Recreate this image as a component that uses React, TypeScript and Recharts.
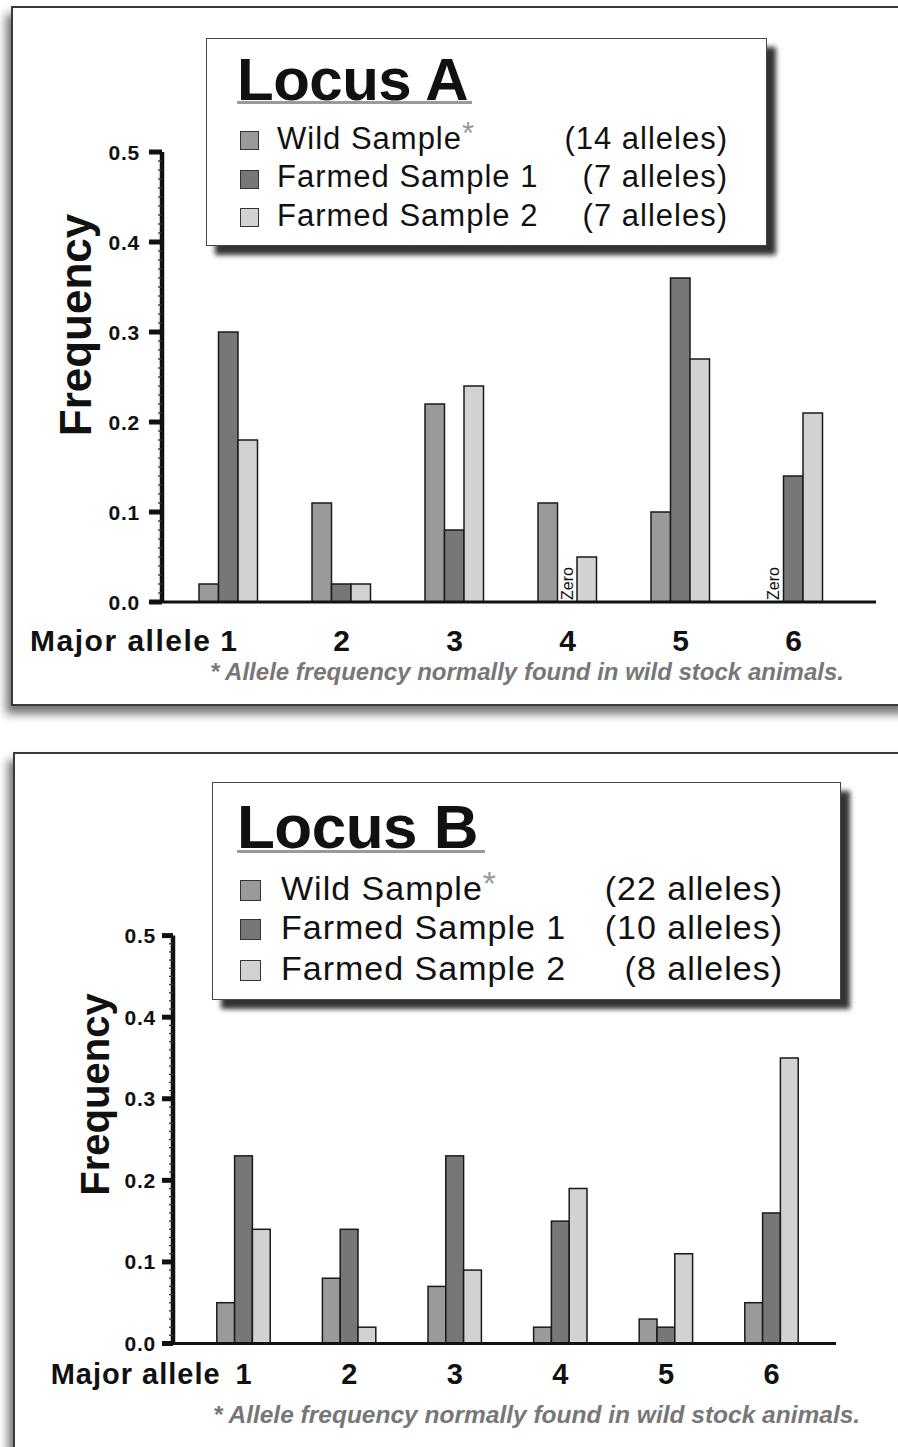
import React from 'react';
import { BarChart, Bar, XAxis, YAxis, Legend } from 'recharts';

// allele categories and frequencies
const alleles = ['1', '2', '3', '4', '5', '6'];

const wildA = [0.02, 0.11, 0.22, 0.11, 0.1, 0];
const farmed1A = [0.3, 0.02, 0.08, 0, 0.36, 0.14];
const farmed2A = [0.18, 0.02, 0.24, 0.05, 0.27, 0.21];

const wildB = [0.05, 0.08, 0.07, 0.02, 0.03, 0.05];
const farmed1B = [0.23, 0.14, 0.23, 0.15, 0.02, 0.16];
const farmed2B = [0.14, 0.02, 0.09, 0.19, 0.11, 0.35];

const seriesNames = ['Wild Sample', 'Farmed Sample 1', 'Farmed Sample 2'];
const countsA = ['(14 alleles)', '(7 alleles)', '(7 alleles)'];
const countsB = ['(22 alleles)', '(10 alleles)', '(8 alleles)'];

// minor ticks every 0.01, labelled majors every 0.1
const minorStep = 0.01;
const allTicks = Array.from({ length: 51 }, (_, i) => Math.round(i * minorStep * 100) / 100);

const FONT = '"Liberation Sans", Arial, Helvetica, sans-serif';
const COLORS = ['#9a9a9a', '#777777', '#d2d2d2'];
const KEYS = ['wild', 'farmed1', 'farmed2'];
const FOOTNOTE = '* Allele frequency normally found in wild stock animals.';

const buildRows = (w: number[], f1: number[], f2: number[]) =>
    alleles.map((a, i) => ({ allele: a, wild: w[i], farmed1: f1[i], farmed2: f2[i] }));

// bar shape: normal rect, or a rotated "Zero" note where the value is 0
const makeShape = (key: string) => (props: any) => {
    const { x, y, width, height, fill, payload } = props;
    if (payload && payload[key] === 0) {
        const cx = Number(x) + Number(width) / 2;
        const by = Number(y) + Number(height) - 2;
        return (
            <text x={cx} y={by} transform={`rotate(-90, ${cx}, ${by})`} textAnchor="start" dominantBaseline="central"
                fontSize={16} fontFamily={FONT} fill="#111">Zero</text>
        );
    }
    if (!height) return null;
    return <rect x={x} y={y} width={width} height={height} fill={fill} stroke="#1a1a1a" strokeWidth={1.5} />;
};

const makeYTick = (cfg: any) => (props: any) => {
    const { x, y, payload } = props;
    const v = Number(payload.value);
    const major = Math.round(v * 100) % 10 === 0;
    return (
        <g>
            {major ? (
                <>
                    <line x1={x - cfg.tickLen} x2={x} y1={y} y2={y} stroke="#111" strokeWidth={5} />
                    <text x={x - cfg.tickLen - cfg.tickGap} y={y} dy="0.36em" textAnchor="end" fontSize={21}
                        fontWeight="bold" fontFamily={FONT} letterSpacing={0.8} fill="#111">{v.toFixed(1)}</text>
                </>
            ) : (
                <line x1={x - 4} x2={x} y1={y} y2={y} stroke="#333" strokeWidth={1.3} />
            )}
        </g>
    );
};

const makeXTick = (cfg: any) => (props: any) => {
    const { x, y, payload, index } = props;
    return (
        <g>
            <text x={x} y={y + cfg.catBaseline} textAnchor="middle" fontSize={cfg.catFont} fontWeight="bold"
                fontFamily={FONT} fill="#111">{payload.value}</text>
            {index === 0 && (
                <text x={x - cfg.majorGap} y={y + cfg.catBaseline} textAnchor="end" fontSize={cfg.catFont}
                    fontWeight="bold" fontFamily={FONT} letterSpacing={cfg.majorSpacing} fill="#111">Major allele</text>
            )}
        </g>
    );
};

const LegendBox = ({ cfg }: { cfg: any }) => {
    const L = cfg.legend;
    return (
        <div style={{
            position: 'relative', width: L.width, height: L.height, boxSizing: 'border-box',
            background: '#fff', border: '1.5px solid #444', boxShadow: '9px 9px 5px rgba(0,0,0,0.8)',
            fontFamily: FONT, color: '#111',
        }}>
            <div style={{
                position: 'absolute', left: L.titleX, top: L.titleTop, fontSize: L.titleSize, lineHeight: 1,
                fontWeight: 'bold', whiteSpace: 'nowrap', letterSpacing: -0.5,
            }}>{cfg.title}</div>
            <div style={{
                position: 'absolute', left: L.titleX, top: L.lineTop, width: L.lineWidth, height: 3, background: '#9a9a9a',
            }} />
            {seriesNames.map((name, i) => (
                <React.Fragment key={name}>
                    <div style={{
                        position: 'absolute', left: L.boxX, top: L.baselines[i] - L.sq + 1, width: L.sq, height: L.sq,
                        boxSizing: 'border-box', background: COLORS[i], border: '1.5px solid #333',
                    }} />
                    <div style={{
                        position: 'absolute', left: L.textX, top: L.baselines[i] - 0.8465 * L.size, fontSize: L.size,
                        lineHeight: 1, whiteSpace: 'nowrap', letterSpacing: L.spacing,
                    }}>
                        {name}
                        {i === 0 && <span style={{ color: '#999', position: 'relative', top: -5 }}>*</span>}
                    </div>
                    <div style={{
                        position: 'absolute', right: L.countRight, top: L.baselines[i] - 0.8465 * L.size, fontSize: L.size,
                        lineHeight: 1, whiteSpace: 'nowrap', letterSpacing: L.spacing,
                    }}>{cfg.counts[i]}</div>
                </React.Fragment>
            ))}
        </div>
    );
};

const LocusChart = ({ cfg }: { cfg: any }) => {
    const rows = buildRows(cfg.wild, cfg.farmed1, cfg.farmed2);
    return (
        <div style={{ position: 'absolute', left: 0, top: cfg.chartTop }}>
            <BarChart width={898} height={cfg.chartHeight} data={rows} margin={cfg.margin} barGap={0}>
                <XAxis dataKey="allele" height={cfg.xAxisHeight} padding={{ left: cfg.padLeft, right: cfg.padRight }}
                    axisLine={{ stroke: '#111', strokeWidth: 3 }} tickLine={false} tickSize={0} tickMargin={0}
                    interval={0} tick={makeXTick(cfg)} />
                <YAxis type="number" domain={[0, 0.5]} ticks={allTicks} interval={0} width={cfg.yAxisWidth}
                    axisLine={{ stroke: '#111', strokeWidth: 4.5 }} tickLine={false} tickSize={0} tickMargin={0}
                    tick={makeYTick(cfg)}
                    label={{
                        content: () => (
                            <text x={cfg.freq.x} y={cfg.freq.y} transform={`rotate(-90, ${cfg.freq.x}, ${cfg.freq.y})`}
                                textAnchor="middle" dominantBaseline="central" fontSize={cfg.freq.size} fontWeight="bold"
                                fontFamily={FONT} fill="#111">Frequency</text>
                        ),
                    }} />
                <Legend layout="vertical" align="center" verticalAlign="middle"
                    wrapperStyle={{ left: cfg.legend.left, top: cfg.legend.top, width: cfg.legend.width, height: cfg.legend.height }}
                    content={() => <LegendBox cfg={cfg} />} />
                {KEYS.map((k, i) => (
                    <Bar key={k} dataKey={k} name={seriesNames[i]} fill={COLORS[i]} stroke="#1a1a1a" strokeWidth={1.5}
                        barSize={cfg.barSize} isAnimationActive={false} shape={makeShape(k)} />
                ))}
            </BarChart>
        </div>
    );
};

const cfgA = {
    title: 'Locus A', counts: countsA, wild: wildA, farmed1: farmed1A, farmed2: farmed2A,
    chartTop: 0, chartHeight: 720,
    margin: { top: 152, right: 22, bottom: 58, left: 0 },
    yAxisWidth: 162, xAxisHeight: 60, padLeft: 10, padRight: 26, barSize: 19.5,
    tickLen: 13, tickGap: 9,
    catBaseline: 49, catFont: 30, majorGap: 17, majorSpacing: 1.5,
    freq: { x: 75, y: 325, size: 44 },
    legend: {
        left: 206, top: 38, width: 561, height: 208,
        titleX: 30, titleTop: 11, titleSize: 60, lineTop: 62, lineWidth: 235,
        boxX: 33, textX: 70, sq: 19, size: 31, spacing: 1,
        baselines: [110, 148.5, 187], countRight: 38,
    },
    footnote: { left: 210, top: 660, size: 24 },
};

const cfgB = {
    title: 'Locus B', counts: countsB, wild: wildB, farmed1: farmed1B, farmed2: farmed2B,
    chartTop: 720, chartHeight: 727,
    margin: { top: 215.6, right: 62, bottom: 53.5, left: 0 },
    yAxisWidth: 173, xAxisHeight: 50, padLeft: 17.8, padRight: 11.6, barSize: 17.8,
    tickLen: 11, tickGap: 6,
    catBaseline: 40, catFont: 29, majorGap: 23, majorSpacing: 1,
    freq: { x: 94.5, y: 374.5, size: 40 },
    legend: {
        left: 212, top: 62, width: 629, height: 218,
        titleX: 24, titleTop: 13, titleSize: 62, lineTop: 67, lineWidth: 248,
        boxX: 27, textX: 68, sq: 21, size: 34, spacing: 1,
        baselines: [116.5, 156, 196.5], countRight: 57,
    },
    footnote: { left: 213, top: 1403, size: 24.5 },
};

const Frame = ({ left, top }: { left: number; top: number }) => (
    <div style={{
        position: 'absolute', left, top, width: 900, height: 700, boxSizing: 'border-box',
        background: '#fff', border: '2px solid #3a3a3a', boxShadow: '-5px 8px 9px rgba(0,0,0,0.55)',
    }} />
);

const Footnote = ({ f }: { f: any }) => (
    <div style={{
        position: 'absolute', left: f.left, top: f.top, fontSize: f.size, lineHeight: 1, whiteSpace: 'nowrap',
        fontFamily: FONT, fontWeight: 'bold', fontStyle: 'italic', color: '#777',
    }}>{FOOTNOTE}</div>
);

export default function App() {
    return (
        <div style={{ position: 'absolute', left: 0, top: 0, width: 898, height: 1447, overflow: 'hidden', background: '#fff' }}>
            <Frame left={11} top={6} />
            <Frame left={12.5} top={752} />
            <LocusChart cfg={cfgA} />
            <LocusChart cfg={cfgB} />
            <Footnote f={cfgA.footnote} />
            <Footnote f={cfgB.footnote} />
        </div>
    );
}
